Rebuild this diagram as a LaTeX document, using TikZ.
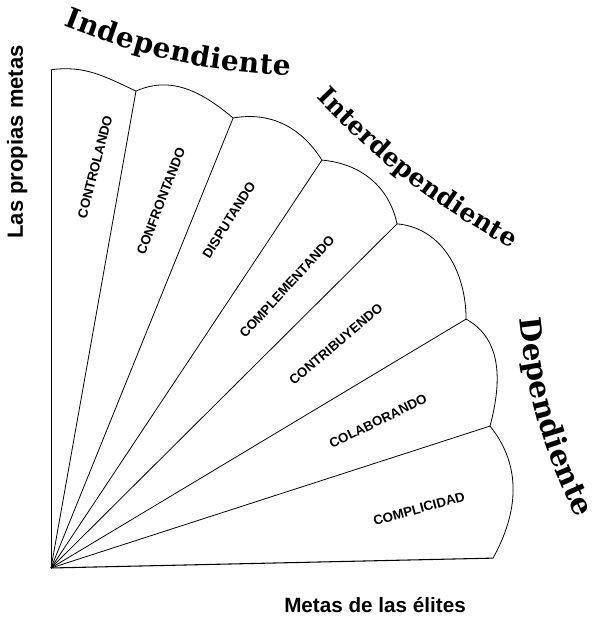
\documentclass[tikz,border=0pt]{standalone}
\usepackage{fontspec}
\setmainfont{Liberation Sans}
\newfontfamily\titlefont{DejaVu Serif}
\usepackage{tikz}
\usetikzlibrary{decorations.text}

\tikzset{
    fanline/.style={line width=0.6pt, black},
    fanlabel/.style={font=\bfseries\fontsize{10}{12}\selectfont, inner sep=0pt},
    axislabel/.style={font=\bfseries\fontsize{15.5}{18}\selectfont, inner sep=0pt},
}

\begin{document}
\begin{tikzpicture}
    \useasboundingbox (-1.344,-1.318) rectangle (14.39,14.97);

    % Origin and tips of the fan
    \coordinate (O) at (0,0);
    \coordinate (V) at (0,13.13);
    \coordinate (R1) at (2.24,12.57);
    \coordinate (R2) at (4.80,11.86);
    \coordinate (R3) at (7.14,10.75);
    \coordinate (R4) at (9.12,9.07);
    \coordinate (R5) at (10.94,6.56);
    \coordinate (R6) at (11.57,3.74);
    \coordinate (B) at (11.65,0.26);

    % Ribs
    \draw[fanline] (O) -- (V);
    \draw[fanline] (O) -- (R1);
    \draw[fanline] (O) -- (R2);
    \draw[fanline] (O) -- (R3);
    \draw[fanline] (O) -- (R4);
    \draw[fanline] (O) -- (R5);
    \draw[fanline] (O) -- (R6);
    \draw[fanline, line width=0.8pt] (O) -- (B);

    % Outer edges of the petals
    \draw[fanline] (V) to[out=8, in=155] (R1);
    \draw[fanline] (R1) to[out=24, in=140] (R2);
    \draw[fanline] (R2) to[out=10, in=122] (R3);
    \draw[fanline] (R3) to[out=-5, in=102] (R4);
    \draw[fanline] (R4) to[out=-5, in=90] (R5);
    \draw[fanline] (R5) to[out=-29, in=75] (R6);
    \draw[fanline] (R6) to[out=-51, in=61] (B);

    % Petal labels
    \node[fanlabel, rotate=75.5] (controlando) at (1.16,10.57) {CONTROLANDO};
    \node[fanlabel, rotate=69] (confrontando) at (2.90,9.67) {CONFRONTANDO};
    \node[fanlabel, rotate=57.8] (disputando) at (4.69,9.17) {DISPUTANDO};
    \node[fanlabel, rotate=47.4] (complementando) at (6.22,7.41) {COMPLEMENTANDO};
    \node[fanlabel, rotate=40.5] (contribuyendo) at (7.51,5.90) {CONTRIBUYENDO};
    \node[fanlabel, rotate=25.8] (colaborando) at (8.62,3.87) {COLABORANDO};
    \node[fanlabel, rotate=15.2] (complicidad) at (9.70,1.56) {COMPLICIDAD};

    % Axis labels
    \node[axislabel, rotate=90, anchor=base, font=\bfseries\fontsize{16.5}{18}\selectfont]
        (ylabel) at (-0.74,11.23) {Las propias metas};
    \node[axislabel, anchor=base] (xlabel) at (8.54,-1.186) {Metas de las élites};

    % Curved titles
    \coordinate (IndA) at (0.34,14.30);
    \coordinate (IndB) at (6.30,12.98);
    \coordinate (IntA) at (6.99,12.40);
    \coordinate (IntB) at (12.02,8.49);
    \coordinate (DepA) at (12.36,6.57);
    \coordinate (DepB) at (13.86,1.30);

    \path[decorate, decoration={text along path, text align={fit to path},
        text={|\titlefont\bfseries\fontsize{21}{21}\selectfont|Independiente}}]
        (IndA) to[bend right=9] (IndB);
    \path[decorate, decoration={text along path, text align={fit to path},
        text={|\titlefont\bfseries\fontsize{19}{19}\selectfont|Interdependiente}}]
        (IntA) to[bend right=8] (IntB);
    \path[decorate, decoration={text along path, text align={fit to path},
        text={|\titlefont\bfseries\fontsize{22}{22}\selectfont|Dependiente}}]
        (DepA) to[bend right=10] (DepB);
\end{tikzpicture}
\end{document}
